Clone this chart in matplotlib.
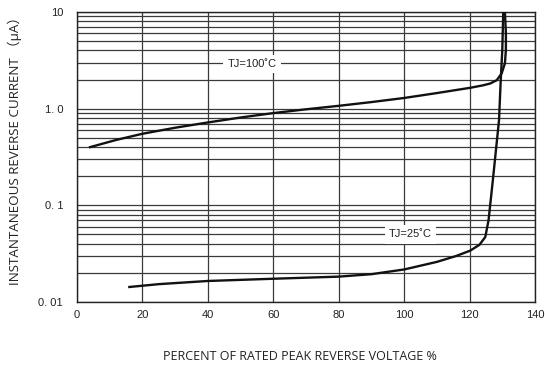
import matplotlib
matplotlib.use("Agg")
import matplotlib.pyplot as plt
from matplotlib import font_manager as fm
from matplotlib.ticker import FixedLocator, NullFormatter, LogLocator

# ---- data ----
t100_x = [4, 12, 20, 30, 40, 50, 60, 70, 80, 90, 100, 110, 120, 124, 126.3, 128.3, 129.8, 130.8, 131.1, 131.1, 130.8]
t100_y = [0.40, 0.475, 0.55, 0.635, 0.72, 0.81, 0.90, 0.985, 1.07, 1.17, 1.29, 1.45, 1.64, 1.74, 1.82, 1.97, 2.31, 2.94, 4.05, 6.04, 10]

t25_x = [16, 25, 40, 60, 80, 90, 100, 110, 116, 120.2, 123, 124.8, 125.8, 127.1, 129.0, 129.5, 130.0, 130.3]
t25_y = [0.0143, 0.0153, 0.0165, 0.0174, 0.0183, 0.0194, 0.0217, 0.026, 0.030, 0.034, 0.039, 0.047, 0.07, 0.18, 0.76, 1.89, 4.05, 10]

x_ticks = [0, 20, 40, 60, 80, 100, 120, 140]
y_ticks = [0.01, 0.1, 1, 10]
y_tick_labels = ["0. 01", "0. 1", "1. 0", "10"]

label_100 = "TJ=100˚C"
label_25 = "TJ=25˚C"
xlabel = "PERCENT OF RATED PEAK REVERSE VOLTAGE %"
ylabel = "INSTANTANEOUS REVERSE CURRENT （µA）"

# find regular (non-narrow) Liberation Sans
arial_path = None
for f in fm.findSystemFonts():
    if f.endswith("LiberationSans-Regular.ttf"):
        arial_path = f
        break
if arial_path:
    def fp(size):
        return fm.FontProperties(fname=arial_path, size=size)
else:
    def fp(size):
        return fm.FontProperties(family="DejaVu Sans", size=size)

# ---- figure ----
fig = plt.figure(figsize=(5.45, 3.65), dpi=100)
ax = fig.add_axes([77/545, 1-302/365, (535-77)/545, (302-12)/365])

ax.set_yscale("log")
ax.set_xlim(0, 140)
ax.set_ylim(0.01, 10)

ax.xaxis.set_major_locator(FixedLocator(x_ticks))
ax.yaxis.set_major_locator(FixedLocator(y_ticks))
ax.yaxis.set_minor_locator(LogLocator(base=10, subs=[2, 3, 4, 5, 6, 7, 8, 9]))
ax.yaxis.set_minor_formatter(NullFormatter())
ax.set_xticklabels([str(v) for v in x_ticks])
ax.set_yticklabels(y_tick_labels)
for lab in ax.get_xticklabels() + ax.get_yticklabels():
    lab.set_fontproperties(fp(8))
    lab.set_color("#222222")
ax.tick_params(which="both", length=0)
ax.tick_params(axis="x", pad=6)
ax.tick_params(axis="y", pad=10)

ax.grid(True, which="major", color="#3a3a3a", linewidth=0.9)
ax.grid(True, which="minor", axis="y", color="#3a3a3a", linewidth=0.9)
ax.set_axisbelow(True)
for s in ax.spines.values():
    s.set_color("#222222")
    s.set_linewidth(1.0)

ax.plot(t100_x, t100_y, color="#111111", linewidth=1.7, solid_joinstyle="round", zorder=3)
ax.plot(t25_x, t25_y, color="#111111", linewidth=1.7, solid_joinstyle="round", zorder=3)

bbox = dict(facecolor="white", edgecolor="none", pad=3)
ax.text(53.5, 2.9, label_100, fontproperties=fp(8), ha="center", va="center",
        bbox=bbox, zorder=4, color="#222222")
ax.text(102, 0.05, label_25, fontproperties=fp(8), ha="center", va="center",
        bbox=bbox, zorder=4, color="#222222")

fig.text(300/545, 1-357/365, xlabel, fontsize=9, family=["Open Sans", "Noto Sans CJK JP"],
         ha="center", va="center", color="#222222")
fig.text(14.5/545, 1-147.5/365, ylabel, fontsize=9.6, family=["Open Sans", "Noto Sans CJK JP"],
         ha="center", va="center", rotation=90, color="#222222")

fig.savefig("out.png", dpi=100)
